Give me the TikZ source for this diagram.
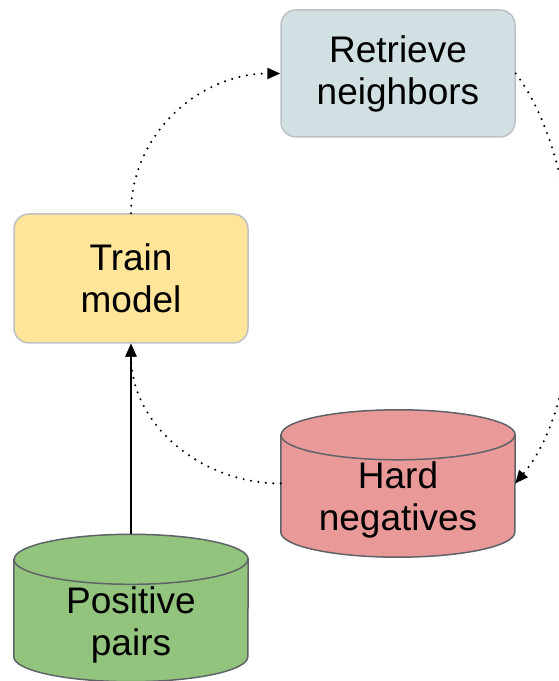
\documentclass[tikz,border=0pt]{standalone}
\usepackage{fontspec}
\setmainfont{Liberation Sans}
\usetikzlibrary{arrows.meta}
\definecolor{retrievefill}{HTML}{D0E0E3}
\definecolor{trainfill}{HTML}{FFE599}
\definecolor{hardfill}{HTML}{EA9999}
\definecolor{posfill}{HTML}{93C47D}
\definecolor{boxedge}{HTML}{BDC1C6}
\definecolor{cyledge}{HTML}{5F6368}

% database drum drawn around an (invisible) body node
\newcommand\drumaround[2]{%
  \filldraw[fill=#2, draw=cyledge, line width=1.5pt]
    ([yshift=-25pt]#1.north west) -- ([yshift=25pt]#1.south west)
    arc[start angle=180, end angle=360, x radius=117pt, y radius=25pt]
    -- ([yshift=-25pt]#1.north east)
    arc[start angle=0, end angle=180, x radius=117pt, y radius=25pt] -- cycle;
  \draw[draw=cyledge, line width=1.5pt]
    ([yshift=-25pt]#1.north west)
    arc[start angle=180, end angle=360, x radius=117pt, y radius=25pt];
}

\begin{document}
\begin{tikzpicture}[x=1pt, y=1pt,
  labeltext/.style={font=\fontsize{37}{42}\selectfont, align=center, text=black, inner sep=0pt},
  stepbox/.style={labeltext, draw=boxedge, line width=1.5pt, rounded corners=15pt,
    minimum width=234pt},
  drumbody/.style={minimum width=234pt, minimum height=147pt, inner sep=0pt},
  flow/.style={line width=2.3pt, dash pattern=on 0pt off 7.5pt, line cap=round},
  tip/.style={-{Triangle[length=13pt, width=11pt]}}
]
\useasboundingbox (0,0) rectangle (558,681);

% process boxes
\node[stepbox, fill=retrievefill, minimum height=127pt] (retrieve) at (398,607.5) {Retrieve\\neighbors};
\node[stepbox, fill=trainfill, minimum height=129pt] (train) at (131,402.5) {Train\\model};

% data stores
\node[drumbody] (hard) at (398,197.5) {};
\node[drumbody] (positive) at (131,73) {};
\drumaround{hard}{hardfill}
\drumaround{positive}{posfill}
\node[labeltext] (hardtext) at ([yshift=-16pt]hard.center) {Hard\\negatives};
\node[labeltext] (postext) at ([yshift=-17pt]positive.center) {Positive\\pairs};

% mining loop
\draw[flow, tip] (train.north) to[out=90, in=180] (retrieve.west);
\draw[flow, tip] (retrieve.east) .. controls +(-53:120pt) and +(50:120pt) .. (hard.east);
\draw[flow, tip] (hard.west) to[out=180, in=-90] (train.south);

% positive pairs feed training
\draw[line width=1.5pt, tip] (positive.north) -- (train.south);
\end{tikzpicture}
\end{document}
